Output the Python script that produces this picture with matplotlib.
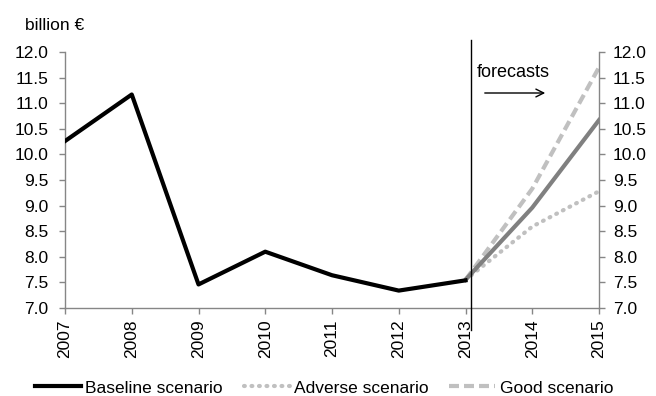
import matplotlib
matplotlib.use("Agg")
import matplotlib.pyplot as plt
from matplotlib.lines import Line2D
from matplotlib.patches import FancyArrowPatch

plt.rcParams['font.family'] = ['Liberation Sans', 'DejaVu Sans']

years = [2007, 2008, 2009, 2010, 2011, 2012, 2013, 2014, 2015]
hist_years = [2007, 2008, 2009, 2010, 2011, 2012, 2013]
hist_values = [10.26, 11.17, 7.46, 8.10, 7.64, 7.34, 7.54]
fc_years = [2013, 2014, 2015]
baseline_fc = [7.55, 8.96, 10.67]
adverse_fc = [7.55, 8.59, 9.28]
good_fc = [7.55, 9.33, 11.70]
y_ticks = [7.0, 7.5, 8.0, 8.5, 9.0, 9.5, 10.0, 10.5, 11.0, 11.5, 12.0]

W, H = 656, 396
fig = plt.figure(figsize=(W / 100, H / 100), dpi=100)
ax = fig.add_axes([65 / W, 1 - 308 / H, (599 - 65) / W, (308 - 52) / H])

grey = '#868686'
fs = 12.5
dash_style = (0, (2.4, 1.2))
dot_style = (0, (0.2, 1.6))
ax.plot(fc_years, good_fc, color='#c0c0c0', lw=3, ls=dash_style, dash_capstyle='butt', zorder=2)
ax.plot(fc_years, adverse_fc, color='#c0c0c0', lw=3, ls=dot_style, dash_capstyle='round', zorder=2)
ax.plot(fc_years, baseline_fc, color='#808080', lw=3, zorder=3)
ax.plot(hist_years, hist_values, color='black', lw=3, zorder=4)

ax.set_xlim(2007, 2015)
ax.set_ylim(7.0, 12.0)
ax.set_xticks(years)
ax.set_xticklabels([str(y) for y in years], rotation=90, fontsize=fs)
ax.set_yticks(y_ticks)
ax.set_yticklabels([f"{v:.1f}" for v in y_ticks], fontsize=fs)
ax.tick_params(axis='both', colors=grey, labelcolor='black', length=4, width=1, direction='out')
ax.tick_params(axis='y', pad=8)
ax.tick_params(axis='x', pad=4)

ax2 = ax.twinx()
ax2.set_ylim(7.0, 12.0)
ax2.set_yticks(y_ticks)
ax2.set_yticklabels([f"{v:.1f}" for v in y_ticks], fontsize=fs)
ax2.tick_params(axis='y', colors=grey, labelcolor='black', length=4, width=1, direction='out', pad=6)

for a in (ax, ax2):
    a.spines['top'].set_visible(False)
    for s in ('left', 'right', 'bottom'):
        a.spines[s].set_color(grey)
        a.spines[s].set_linewidth(1)
ax.spines['right'].set_visible(False)
ax2.spines['left'].set_visible(False)
ax2.spines['bottom'].set_visible(False)

# forecast divider
fig.add_artist(Line2D([471 / W, 471 / W], [1 - 40 / H, 1 - 330 / H], color='black', lw=1))
fig.text(477 / W, 1 - 77 / H, 'forecasts', fontsize=13, va='baseline', ha='left')
fig.add_artist(FancyArrowPatch((482 / W, 1 - 93 / H), (548 / W, 1 - 93 / H),
               transform=fig.transFigure, arrowstyle='->', mutation_scale=14, lw=1, color='black'))

fig.text(25 / W, 1 - 26 / H, 'billion €', fontsize=fs, va='center', ha='left')

handles = [Line2D([], [], color='black', lw=3),
           Line2D([], [], color='#c0c0c0', lw=3, ls=dot_style, dash_capstyle='round'),
           Line2D([], [], color='#c0c0c0', lw=3, ls=dash_style)]
fig.legend(handles, ['Baseline scenario', 'Adverse scenario', 'Good scenario'],
           loc='center', bbox_to_anchor=(324 / W, 1 - 388 / H), ncol=3, frameon=False,
           fontsize=fs, handlelength=2.65, handletextpad=0.25, columnspacing=1.2,
           borderpad=0, borderaxespad=0)

fig.savefig('out.png', dpi=100)
